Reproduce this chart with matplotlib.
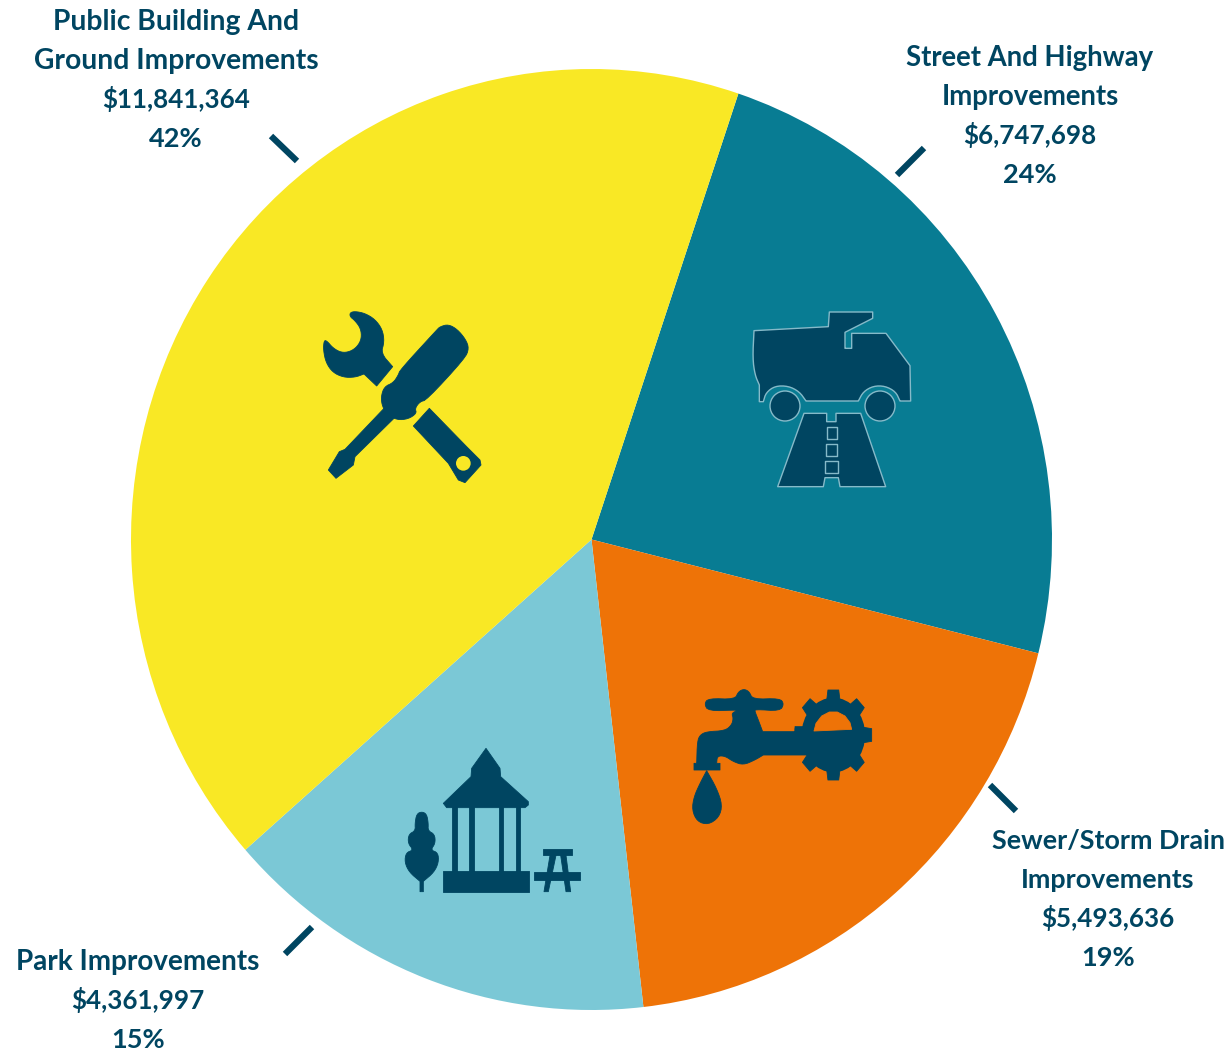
import matplotlib
matplotlib.use("Agg")
import numpy as np
import matplotlib.pyplot as plt
from matplotlib.patches import Polygon, Circle, Ellipse

# data
names = ["Street And Highway\nImprovements", "Sewer/Storm Drain\nImprovements", "Park Improvements", "Public Building And\nGround Improvements"]
amounts = [6747698, 5493636, 4361997, 11841364]
amount_labels = ["$6,747,698", "$5,493,636", "$4,361,997", "$11,841,364"]
pct_labels = ["24%", "19%", "15%", "42%"]

colors = ["#087C93", "#EE7307", "#7BC8D6", "#F9E825"]
navy = "#004561"
W, H = 1230, 1051

fig = plt.figure(figsize=(W / 100, H / 100), dpi=100, facecolor="white")

# pie is a bit taller than wide in the picture
ax = fig.add_axes([131 / W, (H - 1010) / H, 921 / W, 941 / H])
ax.pie(amounts, colors=colors, startangle=71.4, counterclock=False, radius=1)
ax.set_aspect("auto")
ax.set_xlim(-1, 1)
ax.set_ylim(-1, 1)

# overlay in image pixels for leader ticks, labels and icons
ov = fig.add_axes([0, 0, 1, 1])
ov.set_xlim(0, W)
ov.set_ylim(H, 0)
ov.axis("off")
ov.patch.set_alpha(0)

# leader ticks
tick_pos = [((924, 148), (897, 175)), ((990, 785), (1016, 811)), ((312, 927), (285, 954)), ((271, 136), (297, 161))]
for a, b in tick_pos:
    ov.plot([a[0], b[0]], [a[1], b[1]], color=navy, lw=4.5, solid_capstyle="butt")

# labels
label_x = [1030, 1108, 138, 176]
label_y = [58, 841, 962, 22]
name_size = [19.8, 19.4, 20.1, 20.3]
for nm, am, pc, x, y, fs in zip(names, amount_labels, pct_labels, label_x, label_y, name_size):
    lines = nm.split("\n")
    sizes = [fs] * len(lines) + [18.7, 19.5]
    lines = lines + [am, pc]
    for i, line in enumerate(lines):
        ov.text(x, y + i * 39 - (1 if i == len(lines) - 2 else 0), line, ha="center", va="center", color=navy,
                fontsize=sizes[i], fontweight="bold", family="Lato")


def chaikin(pts, n=2):
    # rounds the outline, a doubled point stays a fairly sharp corner
    p = np.array(pts, dtype=float)
    for _ in range(n):
        q = np.roll(p, -1, axis=0)
        p = np.column_stack([0.75 * p + 0.25 * q, 0.25 * p + 0.75 * q]).reshape(-1, 2)
    return p


def poly(pts, ox, oy, color=navy, smooth=False, ec=None, lw=0.6):
    p = chaikin(pts) if smooth else np.array(pts, dtype=float)
    xy = np.column_stack([ox + p[:, 0] / 3, oy + p[:, 1] / 3])
    ov.add_patch(Polygon(xy, closed=True, facecolor=color, edgecolor=ec or color, lw=lw, joinstyle="round"))


def sharp(*pts):
    # doubled points for corners in a smoothed outline
    out = []
    for p in pts:
        out += [p, p, p]
    return out


# tools icon
ox, oy = 300, 300
poly([(150, 38), (165, 34), (195, 40), (225, 58), (247, 88), (253, 125), (243, 160)] + sharp((278, 200), (230, 258), (192, 222)) +
     [(165, 232), (130, 232), (98, 217), (78, 188), (70, 150), (72, 122), (80, 122), (100, 145), (125, 158), (150, 155),
      (172, 140), (185, 115), (182, 85), (165, 62), (150, 50)], ox, oy, smooth=True)
poly([(420, 80), (445, 73), (472, 88), (497, 118), (507, 145), (495, 175), (380, 300), (360, 305), (345, 325), (350, 340),
      (325, 357), (290, 360), (262, 342), (247, 320), (243, 290), (253, 260), (280, 248), (295, 225), (300, 210), (410, 90)], ox, oy, smooth=True)
poly([(255, 322), (135, 448), (118, 455), (85, 510), (108, 535), (160, 495), (165, 470), (285, 352)], ox, oy)
poly([(388, 325), (500, 440), (540, 480), (543, 495), (495, 548), (475, 540), (445, 490), (340, 378)], ox, oy)
ov.add_patch(Circle((ox + 490 / 3, oy + 490 / 3), 22 / 3, fc=colors[3], ec="none"))

# truck and road icon
ox, oy = 730, 300
edge = "#86BAC9"
poly(sharp((72, 92), (295, 80), (298, 36), (428, 36), (428, 55), (345, 97), (345, 145), (365, 145), (365, 100), (468, 100),
           (540, 197), (542, 303), (510, 303)) +
     [(497, 275), (465, 258), (430, 258), (400, 275)] + sharp((385, 303), (228, 303)) +
     [(208, 275), (175, 258), (135, 258), (108, 278)] + sharp((100, 305), (88, 305), (88, 255)) + [(75, 225), (68, 175)],
     ox, oy, smooth=True, ec=edge, lw=1)
for cx in [165, 450]:
    ov.add_patch(Circle((ox + cx / 3, oy + 318 / 3), 45 / 3, fc=navy, ec=edge, lw=1))
poly([(222, 340), (290, 340), (290, 365), (318, 365), (318, 340), (392, 340), (467, 560), (330, 560), (325, 533), (285, 533),
      (280, 560), (143, 560)], ox, oy, ec=edge, lw=1)
for x0, x1, y0, y1 in [(290, 320, 380, 417), (288, 322, 432, 468), (286, 325, 482, 520)]:
    poly([(x0, y0), (x1, y0), (x1, y1), (x0, y1)], ox, oy, ec=edge, lw=1)

# faucet and gear icon
ox, oy = 680, 680
poly([(85, 55), (165, 58), (175, 35), (192, 27), (208, 35), (218, 58), (300, 55), (312, 72), (300, 93), (225, 88), (225, 95),
      (235, 120)] + sharp((248, 155), (345, 155), (345, 140), (400, 140), (400, 225), (250, 225)) +
     [(225, 240), (190, 255), (160, 245), (135, 228), (112, 228)] + sharp((110, 250), (120, 250), (120, 270), (42, 270), (42, 250), (50, 250)) +
     [(52, 185), (60, 165), (80, 155), (135, 152), (155, 135), (160, 115), (155, 100), (170, 92), (170, 90), (85, 93), (73, 72)],
     ox, oy, smooth=True)
poly(sharp((80, 272)) + [(110, 325), (127, 375), (117, 412), (85, 434), (52, 425), (36, 390), (42, 350), (60, 310)], ox, oy, smooth=True)
gx, gy = 460, 165
rx, ry = 115 / 135, 1.0
ov.add_patch(Ellipse((ox + gx / 3, oy + gy / 3), 2 * 112 * rx / 3, 2 * 112 / 3, fc=navy, ec="none"))
for ang in np.deg2rad(np.arange(0, 360, 45)):
    u = np.array([np.cos(ang), np.sin(ang)])
    v = np.array([-u[1], u[0]])
    tooth = [100 * u + 24 * v, 135 * u + 19 * v, 135 * u - 19 * v, 100 * u - 24 * v]
    poly([(gx + t[0] * rx, gy + t[1] * ry) for t in tooth], ox, oy)
poly([(402, 153), (408, 130), (425, 108), (448, 96), (472, 96), (495, 108), (510, 128), (515, 148)], ox, oy, color=colors[1])

# gazebo icon
ox, oy = 400, 740
poly([(258, 25), (300, 85), (302, 110), (385, 185), (385, 195), (375, 203), (140, 203), (130, 190), (213, 110), (215, 85)], ox, oy)
for x0, x1 in [(155, 170), (207, 221), (296, 310), (347, 361)]:
    poly([(x0, 200), (x1, 200), (x1, 395), (x0, 395)], ox, oy)
poly([(130, 393), (386, 393), (386, 455), (130, 455)], ox, oy)
poly([(65, 215), (80, 222), (85, 250), (84, 272), (104, 283), (106, 310), (92, 330), (114, 338), (116, 367), (102, 397)] +
     sharp((70, 424), (70, 455), (60, 455), (60, 424)) +
     [(28, 397), (14, 367), (18, 338), (40, 330), (24, 310), (26, 283), (46, 272), (45, 250), (50, 222)], ox, oy, smooth=True)
poly([(428, 328), (515, 328), (515, 346), (428, 346)], ox, oy)
poly([(402, 397), (540, 397), (540, 420), (402, 420)], ox, oy)
poly([(450, 346), (468, 346), (445, 455), (432, 455)], ox, oy)
poly([(482, 346), (498, 346), (512, 455), (498, 455)], ox, oy)

fig.savefig("out.png", dpi=100, facecolor="white")
